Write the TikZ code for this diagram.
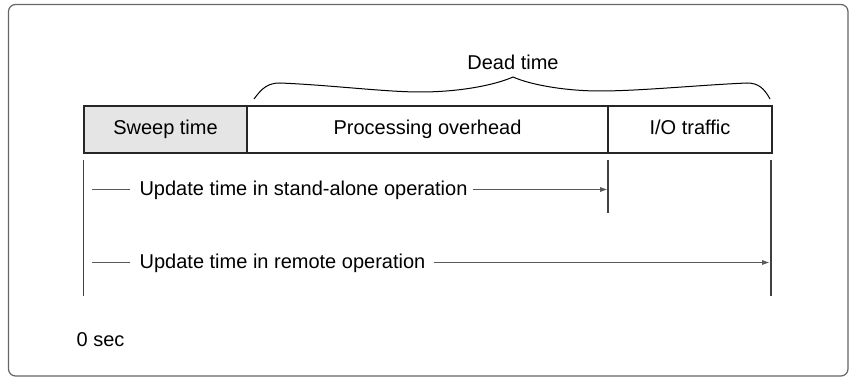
\documentclass[tikz,border=0pt]{standalone}
\usepackage{fontspec}
\setmainfont{Liberation Sans}
\usetikzlibrary{arrows.meta}
\tikzset{
  x=1pt, y=1pt,
  lbl/.style={inner sep=0pt, text height=14.5pt, text depth=4.2pt, font=\fontsize{20}{24}\selectfont},
  cell/.style={lbl, draw=black!85, line width=2pt, minimum height=47pt, anchor=center},
  tick/.style={draw=black!75, line width=1.3pt},
  span/.style={draw=black!65, line width=1.3pt},
  tipline/.style={span, -{Triangle[length=7pt,width=4.5pt]}},
  bracel/.style={draw=black, line width=1pt},
  frame/.style={draw=black!60, line width=1.2pt, rounded corners=7pt}
}
\begin{document}
\begin{tikzpicture}
\useasboundingbox (0,0) rectangle (849,-377);
\draw[frame] (8.5,-4.5) rectangle (848,-376);

% bar cells
\node[cell, fill=black!10, minimum width=163pt] (sweep) at (165.5,-129.2) {Sweep time};
\node[cell, fill=white, minimum width=361pt] (proc) at (427.5,-129.2) {Processing overhead};
\node[cell, fill=white, minimum width=164pt] (io) at (690,-129.2) {I/O traffic};

% brace
\coordinate (bl) at (254,-99);
\coordinate (bt) at (513,-77);
\coordinate (br) at (770,-99);
\draw[bracel] (bl) .. controls (262,-88) and (268,-83) .. (280,-83)
  .. controls (330,-85) and (385,-92) .. (420,-92)
  .. controls (460,-92) and (495,-85) .. (bt)
  .. controls (531,-85) and (566,-91) .. (600,-91)
  .. controls (640,-91) and (700,-85) .. (747,-83)
  .. controls (758,-83) and (764,-88) .. (br);
\node[lbl] (dead) at (513,-64.8) {Dead time};

% vertical ticks
\coordinate (v0t) at (83.5,-160);
\coordinate (v0b) at (83.5,-296);
\coordinate (v1t) at (608,-160);
\coordinate (v1b) at (608,-213);
\coordinate (v2t) at (771,-160);
\coordinate (v2b) at (771,-296);
\draw[tick] (v0t) -- (v0b);
\draw[tick] (v1t) -- (v1b);
\draw[tick] (v2t) -- (v2b);

% row 1
\node[lbl] (t1) at (303.5,-190.5) {Update time in stand-alone operation};
\coordinate (s1) at (92,-189.5);
\coordinate (e1) at (607,-189.5);
\coordinate (a1) at ([xshift=-9pt]t1.west);
\coordinate (b1) at ([xshift=5pt]t1.east);
\draw[span] (s1) -- (a1 |- s1);
\draw[tipline] (b1 |- s1) -- (e1);

% row 2
\node[lbl] (t2) at (282.5,-263.5) {Update time in remote operation};
\coordinate (s2) at (92,-262.5);
\coordinate (e2) at (769,-262.5);
\coordinate (a2) at ([xshift=-9pt]t2.west);
\coordinate (b2) at ([xshift=8pt]t2.east);
\draw[span] (s2) -- (a2 |- s2);
\draw[tipline] (b2 |- s2) -- (e2);

\node[lbl] (zero) at (100.5,-341.5) {0 sec};
\end{tikzpicture}
\end{document}
